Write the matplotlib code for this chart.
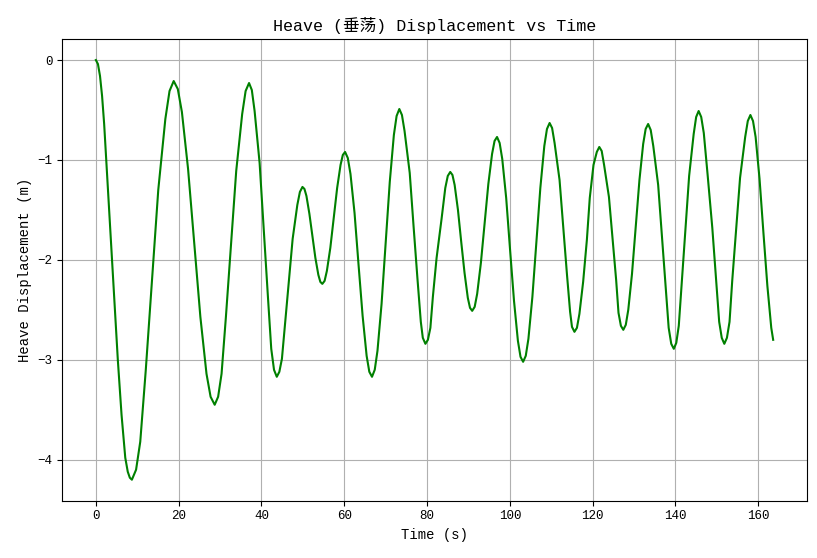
import matplotlib
matplotlib.use("Agg")
import matplotlib.pyplot as plt

# heave record (time in s, displacement in m)
time_s = [0.0, 0.5, 1.0, 1.5, 2.0, 2.5, 3.2, 3.9, 4.6, 5.3, 6.2, 7.1, 7.7, 8.2,
          8.7, 9.71, 10.72, 12.04, 13.55, 15.07, 16.78, 17.79,
          18.8, 19.79, 20.78, 22.27, 23.75, 25.24, 26.72, 27.71,
          28.7, 29.53, 30.36, 31.41, 32.65, 33.90, 35.34, 36.17,
          37.0, 37.67, 38.34, 39.55, 40.55, 41.56, 42.36, 43.03,
          43.7, 44.32, 44.94, 45.67, 46.60, 47.53, 48.66, 49.28,
          49.9, 50.38, 50.86, 51.58, 52.30, 53.02, 53.74, 54.22,
          54.7, 55.25, 55.80, 56.63, 57.45, 58.28, 59.10, 59.65,
          60.2, 60.85, 61.50, 62.48, 63.45, 64.43, 65.40, 66.05,
          66.7, 67.36, 68.02, 69.01, 70.00, 70.99, 71.98, 72.64,
          73.3, 73.93, 74.56, 75.81, 76.75, 77.70, 78.49, 78.97,
          79.6, 80.2, 80.8, 81.4, 82.3, 83.5, 84.4, 85.0,
          85.6, 86.13, 86.66, 87.46, 88.25, 89.05, 89.84, 90.37,
          90.9, 91.5, 92.1, 93.0, 93.9, 94.8, 95.7, 96.3,
          96.9, 97.53, 98.16, 99.11, 100.05, 101.00, 101.94, 102.57,
          103.2, 103.84, 104.48, 105.44, 106.40, 107.36, 108.32, 108.96,
          109.6, 110.2, 110.8, 112.0, 112.9, 113.8, 114.55, 115.0,
          115.6, 116.2, 116.8, 117.7, 118.6, 119.3, 120.2, 121.0,
          121.6, 122.18, 122.76, 123.93, 124.80, 125.67, 126.24, 126.82,
          127.4, 128.0, 128.6, 129.5, 130.4, 131.3, 132.2, 132.8,
          133.4, 134.02, 134.64, 135.82, 136.75, 137.68, 138.36, 138.98,
          139.6, 140.2, 140.8, 141.5, 142.4, 143.3, 144.4, 145.0,
          145.6, 146.22, 146.84, 147.77, 148.9, 149.83, 150.56, 151.18,
          151.8, 152.43, 153.06, 153.71, 154.65, 155.60, 156.84, 157.47,
          158.1, 158.73, 159.36, 160.31, 161.25, 162.20, 163.14, 163.6]
heave_m = [0.00, -0.04, -0.16, -0.36, -0.64, -1.00, -1.52, -2.00, -2.52, -3.00, -3.55, -3.98, -4.12, -4.18,
           -4.20, -4.10, -3.82, -3.11, -2.21, -1.30, -0.59, -0.31,
           -0.21, -0.29, -0.52, -1.09, -1.83, -2.57, -3.14, -3.37,
           -3.45, -3.37, -3.14, -2.57, -1.84, -1.11, -0.54, -0.31,
           -0.23, -0.30, -0.51, -1.03, -1.70, -2.37, -2.89, -3.10,
           -3.17, -3.12, -2.99, -2.65, -2.22, -1.79, -1.45, -1.32,
           -1.27, -1.29, -1.36, -1.54, -1.76, -1.98, -2.15, -2.22,
           -2.24, -2.21, -2.11, -1.88, -1.58, -1.28, -1.05, -0.95,
           -0.92, -0.98, -1.14, -1.53, -2.05, -2.56, -2.96, -3.12,
           -3.17, -3.10, -2.91, -2.44, -1.83, -1.22, -0.75, -0.56,
           -0.49, -0.55, -0.71, -1.13, -1.67, -2.20, -2.62, -2.78,
           -2.84, -2.80, -2.68, -2.37, -1.98, -1.59, -1.28, -1.16,
           -1.12, -1.15, -1.25, -1.50, -1.82, -2.13, -2.38, -2.48,
           -2.51, -2.47, -2.34, -2.03, -1.64, -1.24, -0.94, -0.81,
           -0.77, -0.83, -0.99, -1.38, -1.90, -2.41, -2.81, -2.97,
           -3.02, -2.96, -2.79, -2.37, -1.83, -1.28, -0.86, -0.69,
           -0.63, -0.68, -0.83, -1.20, -1.68, -2.15, -2.52, -2.67,
           -2.72, -2.68, -2.54, -2.22, -1.80, -1.38, -1.05, -0.92,
           -0.87, -0.91, -1.05, -1.37, -1.79, -2.20, -2.53, -2.66,
           -2.70, -2.65, -2.50, -2.14, -1.67, -1.20, -0.84, -0.69,
           -0.64, -0.70, -0.86, -1.25, -1.77, -2.28, -2.68, -2.84,
           -2.89, -2.83, -2.66, -2.24, -1.70, -1.16, -0.74, -0.57,
           -0.51, -0.57, -0.73, -1.15, -1.68, -2.20, -2.62, -2.78,
           -2.84, -2.78, -2.62, -2.21, -1.70, -1.18, -0.77, -0.61,
           -0.55, -0.61, -0.77, -1.19, -1.73, -2.26, -2.68, -2.80]

plt.rcParams['font.family'] = ['Liberation Mono', 'Noto Sans CJK SC', 'DejaVu Sans']

fig = plt.figure(figsize=(8.17, 5.58), dpi=100)
ax = fig.add_axes([0.0759, 0.1027, 0.9119, 0.8273])
ax.plot(time_s, heave_m, color='green', linewidth=1.5)
ax.set_title('Heave (垂荡) Displacement vs Time', fontsize=12)
ax.set_xlabel('Time (s)', fontsize=10)
ax.set_ylabel('Heave Displacement (m)', fontsize=10)
ax.tick_params(labelsize=9)
ax.grid(True)

fig.savefig('out.png', dpi=100)
